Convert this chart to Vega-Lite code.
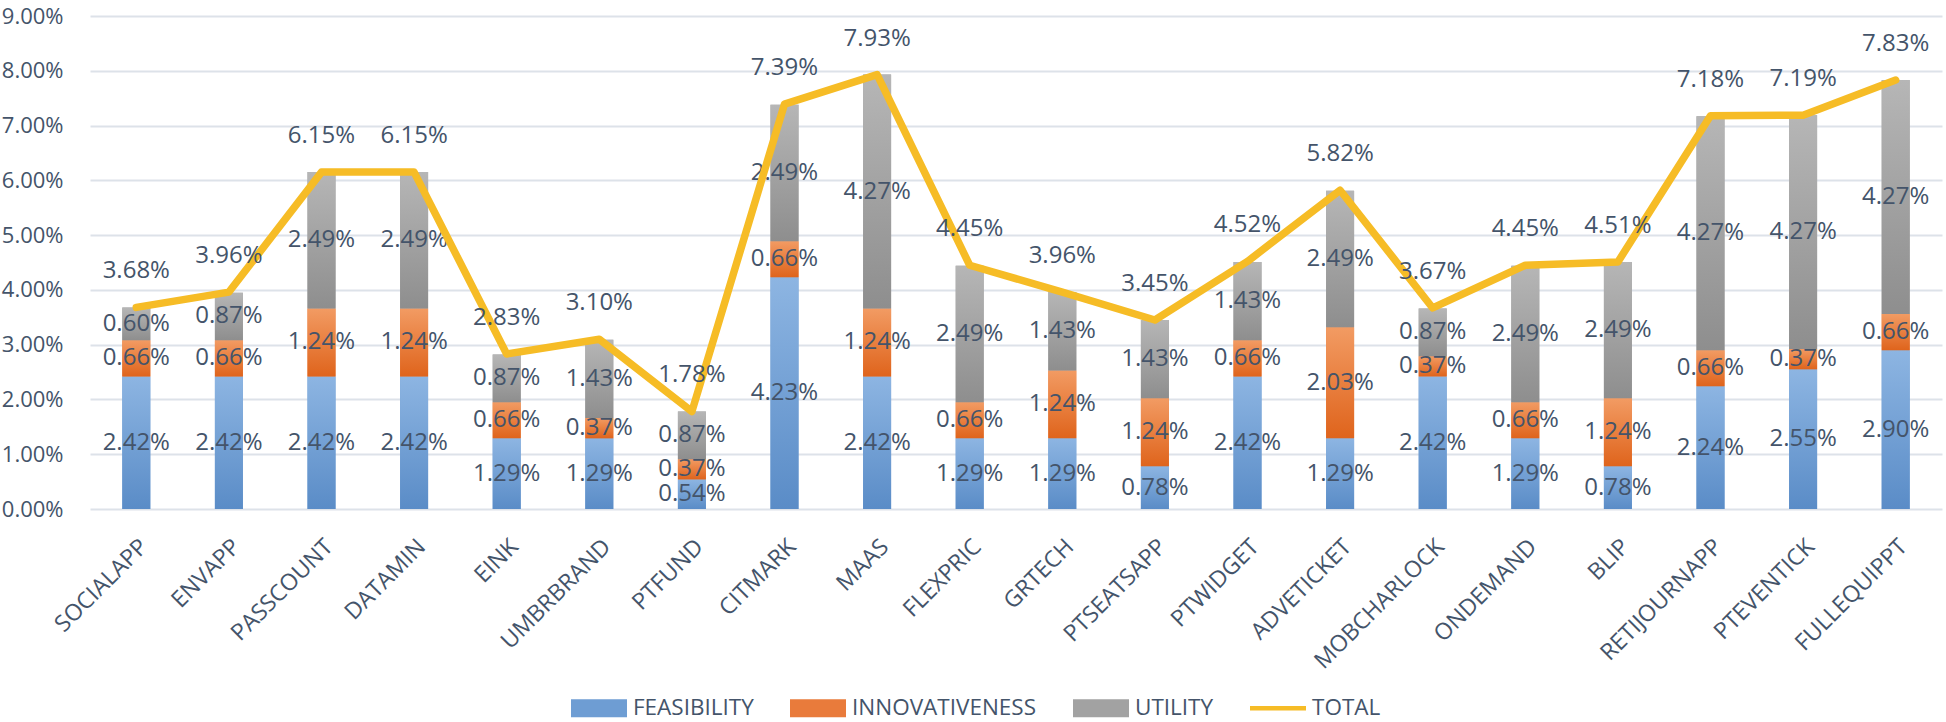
{
  "$schema": "https://vega.github.io/schema/vega-lite/v6.json",
  "autosize": "none",
  "width": 1852,
  "height": 493,
  "padding": {"left": 90, "top": 16, "right": 4, "bottom": 213},
  "background": "white",
  "config": {
    "view": {"stroke": null},
    "font": "Open Sans",
    "axis": {"labelFont": "Open Sans", "labelColor": "#44546A"}
  },
  "data": {
    "values": [
      {"app": "SOCIALAPP", "FEASIBILITY": 0.0242, "INNOVATIVENESS": 0.0066, "UTILITY": 0.0060, "TOTAL": 0.0368},
      {"app": "ENVAPP", "FEASIBILITY": 0.0242, "INNOVATIVENESS": 0.0066, "UTILITY": 0.0087, "TOTAL": 0.0396},
      {"app": "PASSCOUNT", "FEASIBILITY": 0.0242, "INNOVATIVENESS": 0.0124, "UTILITY": 0.0249, "TOTAL": 0.0615},
      {"app": "DATAMIN", "FEASIBILITY": 0.0242, "INNOVATIVENESS": 0.0124, "UTILITY": 0.0249, "TOTAL": 0.0615},
      {"app": "EINK", "FEASIBILITY": 0.0129, "INNOVATIVENESS": 0.0066, "UTILITY": 0.0087, "TOTAL": 0.0283},
      {"app": "UMBRBRAND", "FEASIBILITY": 0.0129, "INNOVATIVENESS": 0.0037, "UTILITY": 0.0143, "TOTAL": 0.0310},
      {"app": "PTFUND", "FEASIBILITY": 0.0054, "INNOVATIVENESS": 0.0037, "UTILITY": 0.0087, "TOTAL": 0.0178},
      {"app": "CITMARK", "FEASIBILITY": 0.0423, "INNOVATIVENESS": 0.0066, "UTILITY": 0.0249, "TOTAL": 0.0739},
      {"app": "MAAS", "FEASIBILITY": 0.0242, "INNOVATIVENESS": 0.0124, "UTILITY": 0.0427, "TOTAL": 0.0793},
      {"app": "FLEXPRIC", "FEASIBILITY": 0.0129, "INNOVATIVENESS": 0.0066, "UTILITY": 0.0249, "TOTAL": 0.0445},
      {"app": "GRTECH", "FEASIBILITY": 0.0129, "INNOVATIVENESS": 0.0124, "UTILITY": 0.0143, "TOTAL": 0.0396},
      {"app": "PTSEATSAPP", "FEASIBILITY": 0.0078, "INNOVATIVENESS": 0.0124, "UTILITY": 0.0143, "TOTAL": 0.0345},
      {"app": "PTWIDGET", "FEASIBILITY": 0.0242, "INNOVATIVENESS": 0.0066, "UTILITY": 0.0143, "TOTAL": 0.0452},
      {"app": "ADVETICKET", "FEASIBILITY": 0.0129, "INNOVATIVENESS": 0.0203, "UTILITY": 0.0249, "TOTAL": 0.0582},
      {"app": "MOBCHARLOCK", "FEASIBILITY": 0.0242, "INNOVATIVENESS": 0.0037, "UTILITY": 0.0087, "TOTAL": 0.0367},
      {"app": "ONDEMAND", "FEASIBILITY": 0.0129, "INNOVATIVENESS": 0.0066, "UTILITY": 0.0249, "TOTAL": 0.0445},
      {"app": "BLIP", "FEASIBILITY": 0.0078, "INNOVATIVENESS": 0.0124, "UTILITY": 0.0249, "TOTAL": 0.0451},
      {"app": "RETIJOURNAPP", "FEASIBILITY": 0.0224, "INNOVATIVENESS": 0.0066, "UTILITY": 0.0427, "TOTAL": 0.0718},
      {"app": "PTEVENTICK", "FEASIBILITY": 0.0255, "INNOVATIVENESS": 0.0037, "UTILITY": 0.0427, "TOTAL": 0.0719},
      {"app": "FULLEQUIPPT", "FEASIBILITY": 0.0290, "INNOVATIVENESS": 0.0066, "UTILITY": 0.0427, "TOTAL": 0.0783}
    ]
  },
  "encoding": {
    "x": {
      "field": "app",
      "type": "nominal",
      "sort": null,
      "scale": {
        "domain": ["SOCIALAPP", "ENVAPP", "PASSCOUNT", "DATAMIN", "EINK", "UMBRBRAND", "PTFUND", "CITMARK", "MAAS", "FLEXPRIC", "GRTECH", "PTSEATSAPP", "PTWIDGET", "ADVETICKET", "MOBCHARLOCK", "ONDEMAND", "BLIP", "RETIJOURNAPP", "PTEVENTICK", "FULLEQUIPPT"],
        "paddingInner": 0.7,
        "paddingOuter": 0.35
      },
      "axis": {
        "title": null,
        "labelAngle": -45,
        "labelFontSize": 23,
        "labelPadding": 26,
        "ticks": false,
        "domain": false,
        "grid": false
      }
    }
  },
  "layer": [
    {
      "transform": [{"fold": ["FEASIBILITY", "INNOVATIVENESS", "UTILITY"], "as": ["series", "value"]}],
      "mark": {"type": "bar", "size": 28},
      "encoding": {
        "y": {
          "field": "value",
          "type": "quantitative",
          "stack": "zero",
          "scale": {"domain": [0, 0.09], "nice": false},
          "axis": {
            "title": null,
            "format": ".2%",
            "values": [0, 0.01, 0.02, 0.03, 0.04, 0.05, 0.06, 0.07, 0.08, 0.09],
            "labelFontSize": 22,
            "labelPadding": 27,
            "ticks": false,
            "domain": false,
            "gridColor": "#DDE2E9",
            "gridWidth": 2
          }
        },
        "color": {
          "field": "series",
          "type": "nominal",
          "scale": {
            "domain": ["FEASIBILITY", "INNOVATIVENESS", "UTILITY", "TOTAL"],
            "range": ["#6E9DD3", "#E97B3B", "#A2A2A2", "#F6BC26"]
          },
          "legend": {
            "title": null,
            "orient": "none",
            "direction": "horizontal",
            "legendX": 481,
            "legendY": 664,
            "labelFont": "Open Sans",
            "labelFontSize": 22.5,
            "labelLimit": 400,
            "labelColor": "#44546A",
            "symbolSize": 3136,
            "symbolStrokeWidth": 0,
            "labelOffset": 6,
            "columnPadding": 36,
            "encode": {
              "symbols": {
                "update": {
                  "shape": {"signal": "datum.value === 'TOTAL' ? 'M-1,-0.08H1V0.08H-1Z' : 'M-1,-0.32H1V0.32H-1Z'"},
                  "fill": {"signal": "datum.value === 'FEASIBILITY' ? {gradient: 'linear', x1: 0, y1: 0, x2: 0, y2: 1, stops: [{offset: 0, color: '#8DB5E2'}, {offset: 1, color: '#5A8CC7'}]} : datum.value === 'INNOVATIVENESS' ? {gradient: 'linear', x1: 0, y1: 0, x2: 0, y2: 1, stops: [{offset: 0, color: '#F29B63'}, {offset: 1, color: '#DF641C'}]} : datum.value === 'UTILITY' ? {gradient: 'linear', x1: 0, y1: 0, x2: 0, y2: 1, stops: [{offset: 0, color: '#B6B6B6'}, {offset: 1, color: '#8E8E8E'}]} : '#F6BC26'"}
                }
              }
            }
          }
        },
        "order": {"field": "series", "sort": "ascending"}
      }
    },
    {
      "transform": [
        {"fold": ["FEASIBILITY", "INNOVATIVENESS", "UTILITY"], "as": ["series", "value"]},
        {"stack": "value", "groupby": ["app"], "sort": [{"field": "series", "order": "ascending"}], "as": ["v0", "v1"]},
        {"filter": "datum.series === 'FEASIBILITY'"}
      ],
      "mark": {"type": "bar", "size": 28, "color": {"gradient": "linear", "x1": 0, "y1": 0, "x2": 0, "y2": 1, "stops": [{"offset": 0, "color": "#8DB5E2"}, {"offset": 1, "color": "#5A8CC7"}]}},
      "encoding": {
        "y": {"field": "v0", "type": "quantitative"},
        "y2": {"field": "v1"}
      }
    },
    {
      "transform": [
        {"fold": ["FEASIBILITY", "INNOVATIVENESS", "UTILITY"], "as": ["series", "value"]},
        {"stack": "value", "groupby": ["app"], "sort": [{"field": "series", "order": "ascending"}], "as": ["v0", "v1"]},
        {"filter": "datum.series === 'INNOVATIVENESS'"}
      ],
      "mark": {"type": "bar", "size": 28, "color": {"gradient": "linear", "x1": 0, "y1": 0, "x2": 0, "y2": 1, "stops": [{"offset": 0, "color": "#F29B63"}, {"offset": 1, "color": "#DF641C"}]}},
      "encoding": {
        "y": {"field": "v0", "type": "quantitative"},
        "y2": {"field": "v1"}
      }
    },
    {
      "transform": [
        {"fold": ["FEASIBILITY", "INNOVATIVENESS", "UTILITY"], "as": ["series", "value"]},
        {"stack": "value", "groupby": ["app"], "sort": [{"field": "series", "order": "ascending"}], "as": ["v0", "v1"]},
        {"filter": "datum.series === 'UTILITY'"}
      ],
      "mark": {"type": "bar", "size": 28, "color": {"gradient": "linear", "x1": 0, "y1": 0, "x2": 0, "y2": 1, "stops": [{"offset": 0, "color": "#B6B6B6"}, {"offset": 1, "color": "#8E8E8E"}]}},
      "encoding": {
        "y": {"field": "v0", "type": "quantitative"},
        "y2": {"field": "v1"}
      }
    },
    {
      "transform": [{"fold": ["FEASIBILITY", "INNOVATIVENESS", "UTILITY"], "as": ["series", "value"]}],
      "mark": {"type": "text", "fontSize": 24, "color": "#44546A", "baseline": "middle", "align": "center"},
      "encoding": {
        "y": {"field": "value", "type": "quantitative", "stack": "zero", "bandPosition": 0.5},
        "detail": {"field": "series"},
        "order": {"field": "series", "sort": "ascending"},
        "text": {"field": "value", "type": "quantitative", "format": ".2%"}
      }
    },
    {
      "mark": {"type": "line", "color": "#F6BC26", "strokeWidth": 7.5, "strokeJoin": "round", "strokeCap": "round"},
      "encoding": {
        "y": {"field": "TOTAL", "type": "quantitative"}
      }
    },
    {
      "mark": {"type": "text", "fontSize": 24, "color": "#44546A", "baseline": "middle", "align": "center", "dy": -36},
      "encoding": {
        "y": {"field": "TOTAL", "type": "quantitative"},
        "text": {"field": "TOTAL", "type": "quantitative", "format": ".2%"}
      }
    }
  ]
}
